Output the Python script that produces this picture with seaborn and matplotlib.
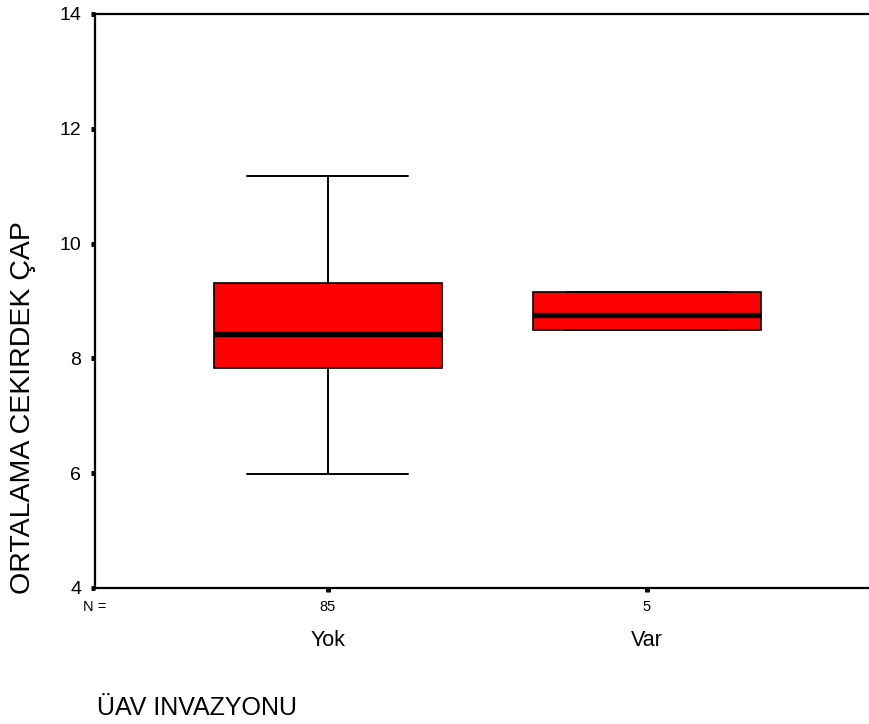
import matplotlib
matplotlib.use("Agg")
import matplotlib.pyplot as plt
import seaborn as sns
import pandas as pd

# Five-number summaries per group: min, Q1, median, Q3, max
groups = ["Yok", "Var"]
yok_summary = [5.98, 7.84, 8.43, 9.32, 11.17]
var_summary = [8.50, 8.50, 8.75, 9.15, 9.15]
n_counts = [85, 5]
y_ticks = [4, 6, 8, 10, 12, 14]

df = pd.DataFrame({
    "grup": ["Yok"] * len(yok_summary) + ["Var"] * len(var_summary),
    "deger": yok_summary + var_summary,
})

sns.set_theme(style="white")
plt.rcParams["font.family"] = ["Liberation Sans", "DejaVu Sans"]
plt.rcParams.update({
    "text.color": "black",
    "axes.labelcolor": "black",
    "xtick.color": "black",
    "ytick.color": "black",
})

fig = plt.figure(figsize=(8.69, 7.24), dpi=100)
W, H = 869, 724
left, right, top, bottom = 95, 869, 14, 588
ax = fig.add_axes([left / W, 1 - bottom / H, (right - left) / W, (bottom - top) / H])

sns.boxplot(
    data=df, x="grup", y="deger", order=groups, ax=ax,
    color="#ff0000", saturation=1, width=0.715, linecolor="black",
    linewidth=1.2, fliersize=0, whis=1.5,
    medianprops=dict(linewidth=3.8, color="black"),
    whiskerprops=dict(linewidth=1.4, color="black"),
    capprops=dict(linewidth=1.4, color="black"),
    capwidths=0.505,
)

ax.set_xlim(-0.73, 1.696)
ax.set_ylim(4, 14)
ax.set_yticks(y_ticks)
ax.set_yticklabels([str(t) for t in y_ticks], fontsize=14)
ax.set_xticks(range(len(groups)))
ax.set_xticklabels(groups, fontsize=15.5)
ax.set_xlabel("")
ax.set_ylabel("")

for side in ["left", "top", "bottom"]:
    ax.spines[side].set_visible(True)
    ax.spines[side].set_color("black")
    ax.spines[side].set_linewidth(1.6)
ax.spines["right"].set_visible(False)

ax.tick_params(axis="y", direction="out", length=3, width=3.5, color="black",
               pad=7, left=True)
ax.tick_params(axis="x", direction="out", length=3, width=3.5, color="black",
               pad=27, bottom=True)

# Group sizes under each category
for i, n in enumerate(n_counts):
    ax.annotate(str(n), xy=(i, 0), xycoords=("data", "axes fraction"),
                xytext=(0, -14), textcoords="offset points",
                ha="center", va="center", fontsize=10.5)
ax.annotate("N =", xy=(0, 0), xycoords="axes fraction",
            xytext=(0, -14), textcoords="offset points",
            ha="center", va="center", fontsize=10.5)

fig.text(23 / W, 1 - 408 / H, "ORTALAMA CEKIRDEK ÇAP", rotation=90,
         ha="center", va="center", fontsize=20.5)
fig.text(97 / W, 1 - 715 / H, "ÜAV INVAZYONU", ha="left", va="baseline",
         fontsize=18)

fig.savefig("out.png", dpi=100)
